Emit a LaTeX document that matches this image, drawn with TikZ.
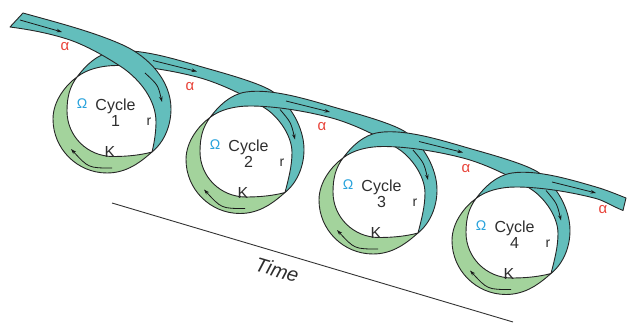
\documentclass[tikz,border=0pt]{standalone}
\usepackage{fontspec}
\setmainfont{Liberation Sans}
\usetikzlibrary{arrows.meta}
\definecolor{bandteal}{HTML}{63BEBC}
\definecolor{kgreen}{HTML}{A3D39C}
\definecolor{alphared}{HTML}{E8443A}
\definecolor{omegablue}{HTML}{2AA3DC}
\definecolor{inkgray}{HTML}{2E2E2E}

% Ribbon leaving a cycle at its Omega point: over the top of the cycle,
% on to the next cycle (shifted by 133,40.5) and down its right side.
\newcommand\loopribbon{%
  \path[band] (-36,-34) .. controls (-27.6,-45.2) and (-16,-57.1) .. (0,-59.5)
    .. controls (25,-63.2) and (60,-52.5) .. (84,-45.5)
    .. controls (108,-38.5) and (148.2,-28.1) .. (161,-18.5)
    .. controls (177,-6.5) and (191,16.5) .. (191,38.5)
    .. controls (191,54.7) and (184.6,71.3) .. (172,81.5)
    .. controls (175.5,67.9) and (179,55) .. (179,41.5)
    .. controls (179,24.5) and (165.5,6.5) .. (154,-1.5)
    .. controls (137.6,-12.9) and (108,-27.75) .. (84,-34)
    .. controls (60,-40.25) and (29,-45.5) .. (4,-45.5)
    .. controls (-11,-45.5) and (-26,-42) .. cycle;}
% Green K crescent round the lower left of a cycle
\newcommand\kcrescent{%
  \path[kphase] (-36,-34) .. controls (-43.2,-24.4) and (-46,-14) .. (-46,0)
    .. controls (-46,25.4) and (-25.4,45.5) .. (0,45.5)
    .. controls (15,45.5) and (28,44) .. (39,41)
    .. controls (27.7,50.9) and (14,62) .. (-6,62)
    .. controls (-35.8,62) and (-60,37.8) .. (-60,8)
    .. controls (-60,-10) and (-47.3,-25.9) .. cycle;}

\begin{document}
\begin{tikzpicture}[x=1pt, y=-1pt,
  band/.style={fill=bandteal, draw=black!85, line width=0.9pt, line join=round},
  kphase/.style={fill=kgreen, draw=black!85, line width=0.9pt, line join=round},
  flow/.style={draw=black!90, line width=0.8pt, -{Stealth[length=5.5pt, width=3.6pt]}},
  txt/.style={text=inkgray, inner sep=0pt, font=\fontsize{16}{16}\selectfont},
  small/.style={inner sep=0pt, font=\fontsize{14}{14}\selectfont}]
\useasboundingbox (0,0) rectangle (627,323);

% time axis
\draw[line width=0.9pt, black!80] (112,203) coordinate (t0) -- (513,322) coordinate (t1);
\node[inner sep=0pt, text=inkgray, rotate=-16.6, font=\fontsize{20}{20}\selectfont\itshape] (time) at (277,270) {Time};

% K crescents
\foreach \cx/\cy in {113/111, 246/151.5, 379/192, 512/232.5}{
  \begin{scope}[shift={(\cx,\cy)}]\kcrescent\end{scope}
}

% ribbon from cycle 1 to cycle 2 (lies under the incoming ribbon)
\begin{scope}[shift={(113,111)}]\loopribbon\end{scope}

% incoming ribbon into cycle 1
\path[band] (23,13) .. controls (55,22) and (95,32) .. (125,46)
  .. controls (148,57) and (171,80) .. (171,109)
  .. controls (171,125) and (164.6,141.8) .. (152,152)
  .. controls (154.5,142) and (156,131) .. (156,122)
  .. controls (156,100) and (140,80) .. (123,68)
  .. controls (108,58) and (86,45) .. (67,39)
  .. controls (48,33) and (29,29.5) .. (10,27) -- cycle;

% ribbons from cycle 2 to 3 and from 3 to 4
\foreach \cx/\cy in {246/151.5, 379/192}{
  \begin{scope}[shift={(\cx,\cy)}]\loopribbon\end{scope}
}

% outgoing ribbon of cycle 4
\begin{scope}[shift={(512,232.5)}]
  \path[band] (-36,-34) .. controls (-27.6,-45.2) and (-16,-57.1) .. (0,-59.5)
    .. controls (25,-63.2) and (60,-52.5) .. (84,-45.5)
    .. controls (94,-42.6) and (104,-38.5) .. (114,-34.5)
    -- (111,-22)
    .. controls (101,-26) and (92,-31.8) .. (84,-34)
    .. controls (60,-40.25) and (29,-45.5) .. (4,-45.5)
    .. controls (-11,-45.5) and (-26,-42) .. cycle;
\end{scope}

% flow arrows
\draw[flow] (20,20) -- (62,32);
\draw[flow] (145,73) .. controls (158,85) .. (162,102);
\foreach \cx/\cy in {246/151.5, 379/192, 512/232.5}{
  \begin{scope}[shift={(\cx,\cy)}]
    \draw[flow] (34,-42) .. controls (45,-29) .. (49,-12);
  \end{scope}
}
\foreach \cx/\cy in {113/111, 246/151.5, 379/192, 512/232.5}{
  \begin{scope}[shift={(\cx,\cy)}]
    \draw[flow] (40,-50.5) -- (84,-39.5);
    \draw[flow] (-1,57) .. controls (-24.5,57) .. (-42,38);
  \end{scope}
}

% cycle labels
\foreach \cx/\cy/\n in {113/111/1, 246/151.5/2, 379/192/3, 512/232.5/4}{
  \begin{scope}[shift={(\cx,\cy)}]
    \node[txt] (cyc\n) at (2.5,-4.5) {Cycle};
    \node[txt] (num\n) at (2.5,10) {\n};
    \node[small, text=omegablue] (om\n) at (-31,-7) {Ω};
    \node[small, text=inkgray] (r\n) at (36,11) {r};
    \node[txt] (k\n) at (-3,41) {K};
  \end{scope}
}

% alpha labels
\foreach \ax/\ay [count=\i] in {65/47, 190/87, 322/127, 466/169, 603/210}{
  \node[small, text=alphared, font=\fontsize{15}{15}\selectfont] (a\i) at (\ax,\ay) {α};
}
\end{tikzpicture}
\end{document}
